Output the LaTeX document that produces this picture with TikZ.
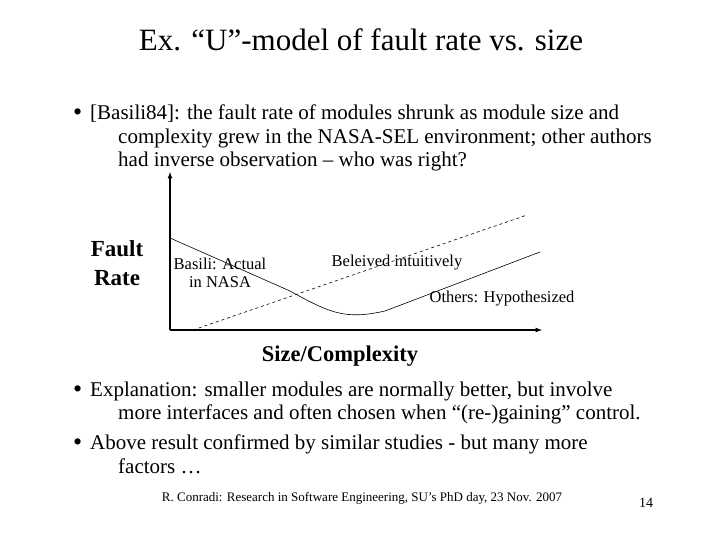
\documentclass[tikz,border=0pt]{standalone}
\usepackage{fontspec}
\setmainfont{Liberation Serif}
\begin{document}
\begin{tikzpicture}[x=1pt,y=-1pt,
  txt/.style={anchor=base west,inner sep=0pt,font=\fontsize{21}{24}\selectfont},
  lbl/.style={inner sep=0pt,font=\fontsize{16.5}{18}\selectfont,align=center},
  ax/.style={line width=1.2pt,-latex}]
\useasboundingbox (0,0) rectangle (720,540);
\node[inner sep=0pt,anchor=base,font=\fontsize{31}{34}\selectfont] (title) at (361,51) {Ex. “U”-model of fault rate vs. size};
\node[txt,font=\fontsize{26}{24}\selectfont] (b1) at (73,121) {•};
\node[txt] (l1) at (90,120) {[Basili84]: the fault rate of modules shrunk as module size and};
\node[txt] (l2) at (118,144) {complexity grew in the NASA-SEL environment; other authors};
\node[txt] (l3) at (118,167) {had inverse observation – who was right?};
\coordinate (o) at (170,330);
\coordinate (yt) at (170,172);
\coordinate (xe) at (542,330);
\draw[ax] (o) -- (yt);
\draw[ax] (o) -- (xe);
\coordinate (s0) at (170,238);
\coordinate (s1) at (540,252);
\draw[line width=0.6pt] (s0) -- (290,291) .. controls (330,313) and (345,320) .. (385,311) -- (s1);
\coordinate (d0) at (193,330);
\coordinate (d1) at (527,215);
\draw[dashed,line width=0.6pt] (d0) -- (d1);
\node[inner sep=0pt,align=center,font=\bfseries\fontsize{23}{29}\selectfont] (fr) at (117,263) {Fault\\Rate};
\node[lbl] (ba) at (220,273) {Basili: Actual\\in NASA};
\node[lbl] (be) at (397,263) {Beleived intuitively};
\node[lbl] (ot) at (502,299) {Others: Hypothesized};
\node[inner sep=0pt,anchor=base,font=\bfseries\fontsize{22.5}{24}\selectfont] (sc) at (340,361) {Size/Complexity};
\node[txt,font=\fontsize{26}{24}\selectfont] (b2) at (73,397) {•};
\node[txt] (m1) at (90,396) {Explanation: smaller modules are normally better, but involve};
\node[txt] (m2) at (118,419) {more interfaces and often chosen when “(re-)gaining” control.};
\node[txt,font=\fontsize{26}{24}\selectfont] (b3) at (73,450) {•};
\node[txt] (n1) at (90,449) {Above result confirmed by similar studies - but many more};
\node[txt] (n2) at (118,473) {factors …};
\node[inner sep=0pt,anchor=base,font=\fontsize{13}{15}\selectfont] (ft) at (362,501) {R. Conradi: Research in Software Engineering, SU's PhD day, 23 Nov. 2007};
\node[inner sep=0pt,anchor=base,font=\fontsize{14}{16}\selectfont] (pg) at (646,507) {14};
\end{tikzpicture}
\end{document}
